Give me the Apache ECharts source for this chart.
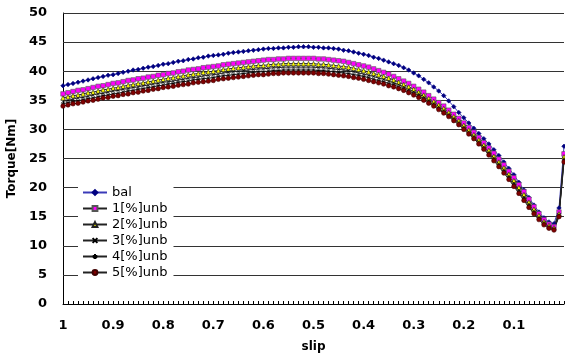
<!DOCTYPE html>
<html>
<head>
<meta charset="utf-8">
<script src="https://cdn.jsdelivr.net/npm/echarts@6/dist/echarts.min.js"></script>
<style>
  html, body { margin: 0; padding: 0; background: #fff; }
  #chart { width: 565px; height: 353px; }
</style>
</head>
<body>
<div id="chart"></div>
<script>
// slip from 1 down to 0, step 0.01
const slip = [
  1, 0.99, 0.98, 0.97, 0.96, 0.95, 0.94, 0.93, 0.92, 0.91,
  0.9, 0.89, 0.88, 0.87, 0.86, 0.85, 0.84, 0.83, 0.82, 0.81,
  0.8, 0.79, 0.78, 0.77, 0.76, 0.75, 0.74, 0.73, 0.72, 0.71,
  0.7, 0.69, 0.68, 0.67, 0.66, 0.65, 0.64, 0.63, 0.62, 0.61,
  0.6, 0.59, 0.58, 0.57, 0.56, 0.55, 0.54, 0.53, 0.52, 0.51,
  0.5, 0.49, 0.48, 0.47, 0.46, 0.45, 0.44, 0.43, 0.42, 0.41,
  0.4, 0.39, 0.38, 0.37, 0.36, 0.35, 0.34, 0.33, 0.32, 0.31,
  0.3, 0.29, 0.28, 0.27, 0.26, 0.25, 0.24, 0.23, 0.22, 0.21,
  0.2, 0.19, 0.18, 0.17, 0.16, 0.15, 0.14, 0.13, 0.12, 0.11,
  0.1, 0.09, 0.08, 0.07, 0.06, 0.05, 0.04, 0.03, 0.02, 0.01,
  0
];

const seriesNames = ['bal', '1[%]unb', '2[%]unb', '3[%]unb', '4[%]unb', '5[%]unb'];

const bal = [
  37.5, 37.7, 37.9, 38.1, 38.3, 38.5, 38.7, 38.9, 39.1, 39.3,
  39.4, 39.6, 39.8, 40.0, 40.2, 40.3, 40.5, 40.7, 40.8, 41.0,
  41.2, 41.3, 41.5, 41.7, 41.8, 42.0, 42.1, 42.3, 42.4, 42.6,
  42.7, 42.8, 42.9, 43.1, 43.2, 43.3, 43.4, 43.5, 43.6, 43.7,
  43.8, 43.9, 43.9, 44.0, 44.0, 44.1, 44.1, 44.2, 44.2, 44.2,
  44.1, 44.1, 44.0, 44.0, 43.9, 43.8, 43.6, 43.5, 43.3, 43.1,
  42.9, 42.7, 42.4, 42.2, 41.9, 41.6, 41.3, 41.0, 40.6, 40.2,
  39.7, 39.2, 38.6, 38.0, 37.3, 36.6, 35.8, 34.9, 33.9, 32.9,
  32.0, 31.1, 30.2, 29.3, 28.4, 27.5, 26.5, 25.5, 24.4, 23.3,
  22.2, 20.9, 19.6, 18.3, 17.0, 15.8, 14.8, 14.1, 13.8, 16.5,
  27.1
];

const unb1 = [
  36.1, 36.3, 36.5, 36.7, 36.8, 37.0, 37.2, 37.4, 37.5, 37.7,
  37.9, 38.0, 38.2, 38.4, 38.5, 38.7, 38.8, 39.0, 39.1, 39.3,
  39.4, 39.6, 39.7, 39.9, 40.0, 40.2, 40.3, 40.4, 40.6, 40.7,
  40.8, 40.9, 41.1, 41.2, 41.3, 41.4, 41.5, 41.6, 41.7, 41.8,
  41.9, 42.0, 42.0, 42.1, 42.1, 42.2, 42.2, 42.2, 42.2, 42.2,
  42.2, 42.1, 42.1, 42.0, 41.9, 41.8, 41.7, 41.5, 41.3, 41.1,
  40.9, 40.7, 40.4, 40.1, 39.8, 39.5, 39.1, 38.7, 38.3, 37.9,
  37.4, 36.9, 36.4, 35.8, 35.2, 34.6, 34.0, 33.3, 32.6, 31.9,
  31.1, 30.3, 29.5, 28.6, 27.7, 26.8, 25.9, 24.9, 23.9, 22.8,
  21.7, 20.5, 19.3, 18.0, 16.7, 15.5, 14.5, 13.7, 13.3, 15.8,
  25.8
];

const unb2 = [
  35.4, 35.6, 35.8, 35.9, 36.1, 36.3, 36.4, 36.6, 36.8, 36.9,
  37.1, 37.2, 37.4, 37.6, 37.7, 37.9, 38.0, 38.2, 38.3, 38.5,
  38.6, 38.8, 38.9, 39.1, 39.2, 39.4, 39.5, 39.6, 39.8, 39.9,
  40.0, 40.1, 40.3, 40.4, 40.5, 40.6, 40.7, 40.8, 40.9, 41.0,
  41.0, 41.1, 41.2, 41.2, 41.3, 41.3, 41.3, 41.3, 41.3, 41.3,
  41.3, 41.2, 41.2, 41.1, 41.0, 40.9, 40.8, 40.7, 40.5, 40.3,
  40.1, 39.9, 39.6, 39.4, 39.1, 38.8, 38.5, 38.1, 37.7, 37.3,
  36.9, 36.4, 35.9, 35.3, 34.8, 34.2, 33.6, 32.9, 32.2, 31.5,
  30.7, 29.9, 29.1, 28.2, 27.3, 26.4, 25.4, 24.4, 23.4, 22.3,
  21.2, 20.0, 18.8, 17.5, 16.3, 15.2, 14.2, 13.5, 13.1, 15.5,
  25.3
];

const unb3 = [
  34.8, 35.0, 35.2, 35.4, 35.5, 35.7, 35.9, 36.1, 36.2, 36.4,
  36.6, 36.7, 36.9, 37.0, 37.2, 37.3, 37.5, 37.6, 37.8, 37.9,
  38.1, 38.2, 38.3, 38.5, 38.6, 38.8, 38.9, 39.0, 39.2, 39.3,
  39.4, 39.5, 39.7, 39.8, 39.9, 40.0, 40.1, 40.2, 40.3, 40.4,
  40.4, 40.5, 40.6, 40.6, 40.7, 40.7, 40.7, 40.7, 40.7, 40.7,
  40.7, 40.6, 40.6, 40.5, 40.4, 40.3, 40.2, 40.1, 39.9, 39.7,
  39.5, 39.3, 39.1, 38.8, 38.6, 38.3, 38.0, 37.7, 37.3, 36.9,
  36.5, 36.1, 35.6, 35.0, 34.5, 33.9, 33.3, 32.6, 31.9, 31.2,
  30.4, 29.6, 28.8, 27.9, 27.0, 26.1, 25.1, 24.1, 23.1, 22.0,
  20.8, 19.6, 18.4, 17.2, 16.0, 14.9, 14.0, 13.3, 12.9, 15.3,
  25.0
];

const unb4 = [
  34.4, 34.6, 34.8, 34.9, 35.1, 35.3, 35.4, 35.6, 35.8, 35.9,
  36.1, 36.2, 36.4, 36.6, 36.7, 36.9, 37.0, 37.2, 37.3, 37.5,
  37.6, 37.8, 37.9, 38.1, 38.2, 38.3, 38.5, 38.6, 38.7, 38.8,
  38.9, 39.1, 39.2, 39.3, 39.4, 39.5, 39.6, 39.7, 39.8, 39.9,
  39.9, 40.0, 40.1, 40.1, 40.2, 40.2, 40.2, 40.2, 40.2, 40.2,
  40.2, 40.1, 40.1, 40.0, 39.9, 39.8, 39.7, 39.6, 39.4, 39.3,
  39.1, 38.9, 38.6, 38.4, 38.2, 37.9, 37.7, 37.3, 37.0, 36.6,
  36.2, 35.8, 35.3, 34.8, 34.2, 33.6, 33.0, 32.4, 31.7, 31.0,
  30.2, 29.4, 28.6, 27.7, 26.8, 25.8, 24.9, 23.9, 22.8, 21.7,
  20.5, 19.3, 18.1, 16.9, 15.7, 14.7, 13.8, 13.1, 12.8, 15.2,
  24.7
];

const unb5 = [
  34.0, 34.2, 34.4, 34.5, 34.7, 34.9, 35.0, 35.2, 35.4, 35.5,
  35.7, 35.8, 36.0, 36.1, 36.3, 36.4, 36.6, 36.7, 36.9, 37.0,
  37.2, 37.3, 37.4, 37.6, 37.7, 37.8, 38.0, 38.1, 38.2, 38.3,
  38.4, 38.6, 38.7, 38.8, 38.9, 39.0, 39.1, 39.2, 39.3, 39.4,
  39.4, 39.5, 39.6, 39.6, 39.7, 39.7, 39.7, 39.7, 39.7, 39.7,
  39.7, 39.6, 39.6, 39.5, 39.4, 39.3, 39.2, 39.1, 38.9, 38.8,
  38.6, 38.4, 38.2, 38.0, 37.8, 37.5, 37.3, 37.0, 36.7, 36.3,
  35.9, 35.5, 35.0, 34.5, 34.0, 33.4, 32.8, 32.2, 31.5, 30.8,
  30.0, 29.2, 28.4, 27.5, 26.6, 25.6, 24.6, 23.6, 22.5, 21.4,
  20.2, 19.0, 17.8, 16.6, 15.5, 14.5, 13.6, 13.0, 12.7, 15.0,
  24.4
];

const yTicks = { min: 0, max: 50, interval: 5 };
const gridValues = [5, 10, 15, 20, 25, 30, 35, 40, 45, 50];

const FONT = '"DejaVu Sans", "Liberation Sans", Arial, sans-serif';

const markX = 'path://M0,0L10,10M10,0L0,10';
const markStar = 'path://M5,0L5,10M0,5L10,5M1.5,1.5L8.5,8.5M8.5,1.5L1.5,8.5';

function lineSeries(name, data, symbol, fill, border, lineColor, size) {
  return {
    name,
    type: 'line',
    data,
    symbol,
    symbolSize: size,
    showAllSymbol: true,
    z: 3,
    lineStyle: { color: lineColor, width: 1 },
    itemStyle: { color: fill, borderColor: border, borderWidth: 0.6 },
    emphasis: { disabled: true },
  };
}

// horizontal grid lines, kept under the curves
const gridSeries = {
  name: 'grid',
  type: 'line',
  data: [],
  z: 1,
  silent: true,
  markLine: {
    z: 1,
    silent: true,
    symbol: 'none',
    animation: false,
    label: { show: false },
    lineStyle: { color: '#333', width: 1, type: 'solid' },
    emphasis: { disabled: true },
    data: gridValues.map((v) => ({ yAxis: v })),
  },
};

const chart = echarts.init(document.getElementById('chart'));
chart.setOption({
  backgroundColor: '#fff',
  animation: false,
  grid: {
    left: 63, right: 1, top: 13, bottom: 49,
    containLabel: false,
    outerBoundsMode: 'none',
  },
  legend: {
    orient: 'vertical',
    left: 78,
    top: 183,
    itemWidth: 24,
    itemHeight: 6,
    itemGap: 3,
    padding: [3, 6, 3, 4],
    backgroundColor: '#fff',
    z: 10,
    data: seriesNames,
    textStyle: { fontFamily: FONT, fontSize: 13, color: '#000' },
  },
  xAxis: {
    type: 'category',
    data: slip,
    boundaryGap: false,
    name: 'slip',
    nameLocation: 'middle',
    nameGap: 37,
    nameTextStyle: { fontFamily: FONT, fontSize: 12, fontWeight: 'bold', color: '#000' },
    axisLine: { lineStyle: { color: '#000', width: 1 } },
    axisTick: { show: true, inside: true, length: 3, interval: 0, lineStyle: { color: '#000' } },
    axisLabel: {
      interval: (i) => i % 10 === 0 && i < 100,
      margin: 15,
      fontFamily: FONT,
      fontSize: 13,
      fontWeight: 'bold',
      color: '#000',
    },
    splitLine: { show: false },
  },
  yAxis: {
    type: 'value',
    min: yTicks.min,
    max: yTicks.max,
    interval: yTicks.interval,
    name: 'Torque[Nm]',
    nameLocation: 'middle',
    nameGap: 41,
    nameRotate: 90,
    nameTextStyle: { fontFamily: FONT, fontSize: 12, fontWeight: 'bold', color: '#000' },
    axisLine: { show: true, lineStyle: { color: '#000', width: 1 } },
    axisTick: { show: false },
    axisLabel: { margin: 16, fontFamily: FONT, fontSize: 13, fontWeight: 'bold', color: '#000' },
    splitLine: { show: true, lineStyle: { color: '#333', width: 1 } },
  },
  series: [
    gridSeries,
    lineSeries(seriesNames[0], bal, 'diamond', '#000080', '#000080', '#3a3ab8', 4.5),
    lineSeries(seriesNames[1], unb1, 'rect', '#ff00ff', '#555', '#222', 4.5),
    lineSeries(seriesNames[2], unb2, 'triangle', '#ffff00', '#222', '#222', 4.5),
    lineSeries(seriesNames[3], unb3, markX, '#000', '#000', '#222', 3.5),
    lineSeries(seriesNames[4], unb4, markStar, '#000', '#000', '#222', 4),
    lineSeries(seriesNames[5], unb5, 'circle', '#800000', '#400000', '#222', 4.5),
  ],
});
</script>
</body>
</html>
